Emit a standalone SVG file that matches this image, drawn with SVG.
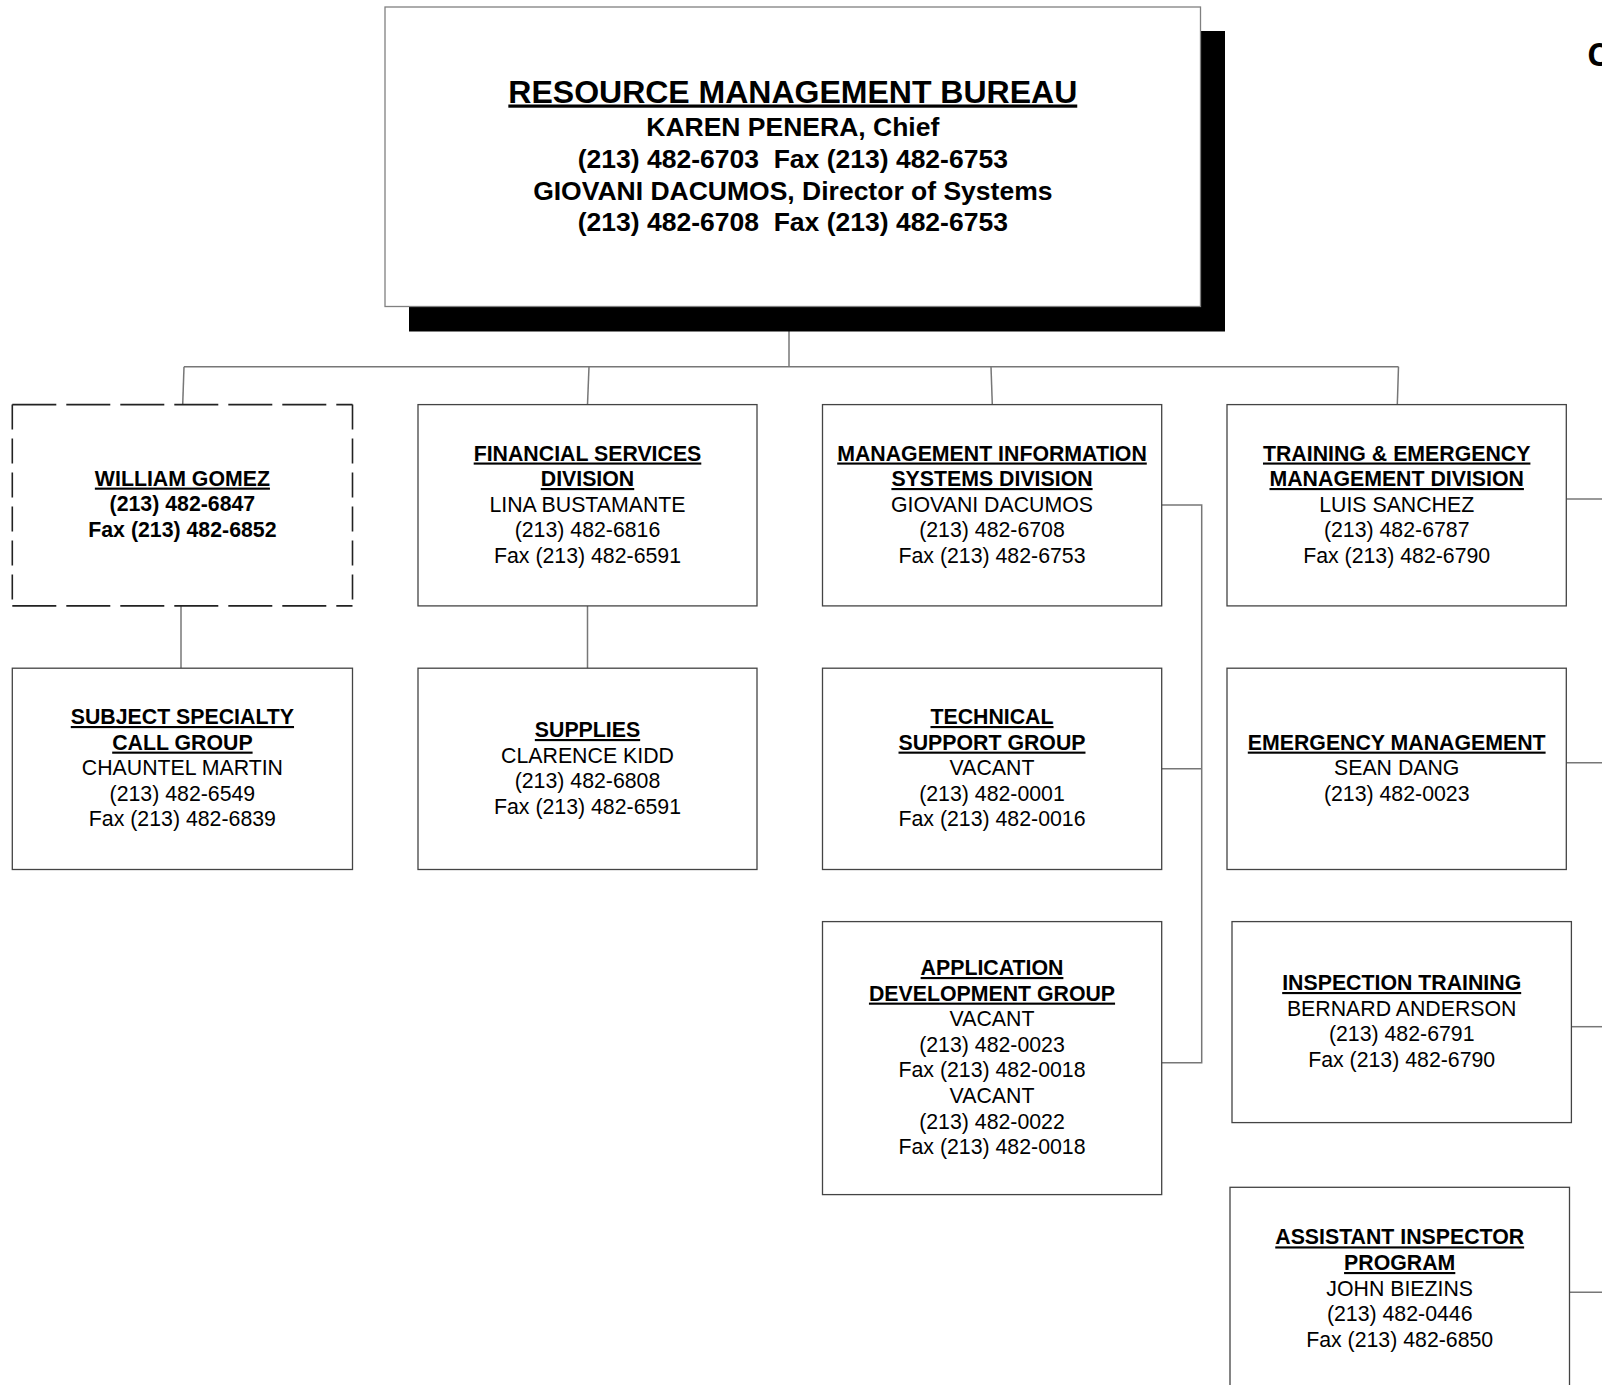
<svg xmlns="http://www.w3.org/2000/svg" width="1602" height="1385" viewBox="0 0 1602 1385">
<style>
.box{fill:#fff;stroke:#444;stroke-width:1.3}
.conn{stroke:#777;stroke-width:1.5;fill:none}
.t{font-family:"Liberation Sans",Arial,sans-serif;font-size:21.3px;text-anchor:middle;fill:#000}
.h{font-weight:bold;text-decoration:underline}
.b{font-weight:bold}
.m{font-family:"Liberation Sans",Arial,sans-serif;font-weight:bold;text-anchor:middle;fill:#000}
</style>
<rect width="1602" height="1385" fill="#fff"/>
<g id="connectors">
<line class="conn" x1="789" y1="331" x2="789" y2="366.7"/>
<line class="conn" x1="184" y1="366.7" x2="1398.5" y2="366.7"/>
<line class="conn" x1="184" y1="366.7" x2="182.7" y2="404.6"/>
<line class="conn" x1="589" y1="366.7" x2="587.5" y2="404.6"/>
<line class="conn" x1="991" y1="366.7" x2="992.3" y2="404.6"/>
<line class="conn" x1="1398.5" y1="366.7" x2="1397.3" y2="404.6"/>
<line class="conn" x1="181" y1="606" x2="181" y2="668.2"/>
<line class="conn" x1="587.5" y1="606" x2="587.5" y2="668.2"/>
<polyline class="conn" points="1162,505 1201.7,505 1201.7,1062.7 1162,1062.7"/>
<line class="conn" x1="1162" y1="768.7" x2="1201.7" y2="768.7"/>
<line class="conn" x1="1566.3" y1="499" x2="1602" y2="499"/>
<line class="conn" x1="1566.3" y1="762.7" x2="1602" y2="762.7"/>
<line class="conn" x1="1571.4" y1="1026.7" x2="1602" y2="1026.7"/>
<line class="conn" x1="1569.5" y1="1292.3" x2="1602" y2="1292.3"/>
</g>
<g id="bureau">
<rect x="409" y="31" width="816" height="300.5" fill="#000"/>
<rect x="385" y="7" width="815.5" height="299.5" fill="#fff" stroke="#808080" stroke-width="1.3"/>
<text class="m" x="792.8" y="102.5" font-size="32" text-decoration="underline">RESOURCE MANAGEMENT BUREAU</text>
<text class="m" x="792.8" y="136" font-size="26.5">KAREN PENERA, Chief</text>
<text class="m" x="792.8" y="167.7" font-size="26.5" xml:space="preserve">(213) 482-6703  Fax (213) 482-6753</text>
<text class="m" x="792.8" y="199.5" font-size="26.5">GIOVANI DACUMOS, Director of Systems</text>
<text class="m" x="792.8" y="231" font-size="26.5" xml:space="preserve">(213) 482-6708  Fax (213) 482-6753</text>
</g>
<g id="title-fragment">
<text x="1587" y="66" font-family="'Open Sans','Noto Sans',sans-serif" font-weight="bold" font-size="32">C</text>
</g>
<g id="william-gomez">
<rect x="12.3" y="404.6" width="340.2" height="201.3" fill="#fff" stroke="none"/>
<line x1="12.3" y1="404.6" x2="352.5" y2="404.6" stroke="#222" stroke-width="1.6" stroke-dasharray="44 10"/>
<line x1="12.3" y1="605.9" x2="352.5" y2="605.9" stroke="#222" stroke-width="1.6" stroke-dasharray="44 10"/>
<line x1="12.3" y1="404.6" x2="12.3" y2="605.9" stroke="#222" stroke-width="1.6" stroke-dasharray="25 9"/>
<line x1="352.5" y1="404.6" x2="352.5" y2="605.9" stroke="#222" stroke-width="1.6" stroke-dasharray="25 9"/>
<text class="t h" x="182.4" y="485.6">WILLIAM GOMEZ</text>
<text class="t b" x="182.4" y="511.2">(213) 482-6847</text>
<text class="t b" x="182.4" y="536.8">Fax (213) 482-6852</text>
</g>
<g id="financial-services">
<rect class="box" x="418" y="404.6" width="339" height="201.3"/>
<text class="t h" x="587.5" y="460.5">FINANCIAL SERVICES</text>
<text class="t h" x="587.5" y="486">DIVISION</text>
<text class="t" x="587.5" y="511.5">LINA BUSTAMANTE</text>
<text class="t" x="587.5" y="537">(213) 482-6816</text>
<text class="t" x="587.5" y="562.5">Fax (213) 482-6591</text>
</g>
<g id="mis">
<rect class="box" x="822.5" y="404.6" width="339.2" height="201.3"/>
<text class="t h" x="992" y="460.5">MANAGEMENT INFORMATION</text>
<text class="t h" x="992" y="486">SYSTEMS DIVISION</text>
<text class="t" x="992" y="511.5">GIOVANI DACUMOS</text>
<text class="t" x="992" y="537">(213) 482-6708</text>
<text class="t" x="992" y="562.5">Fax (213) 482-6753</text>
</g>
<g id="training-emergency">
<rect class="box" x="1227" y="404.6" width="339.3" height="201.3"/>
<text class="t h" x="1396.7" y="460.5">TRAINING &amp; EMERGENCY</text>
<text class="t h" x="1396.7" y="486">MANAGEMENT DIVISION</text>
<text class="t" x="1396.7" y="511.5">LUIS SANCHEZ</text>
<text class="t" x="1396.7" y="537">(213) 482-6787</text>
<text class="t" x="1396.7" y="562.5">Fax (213) 482-6790</text>
</g>
<g id="subject-specialty">
<rect class="box" x="12.3" y="668.2" width="340.2" height="201.3"/>
<text class="t h" x="182.4" y="724">SUBJECT SPECIALTY</text>
<text class="t h" x="182.4" y="749.6">CALL GROUP</text>
<text class="t" x="182.4" y="775.2">CHAUNTEL MARTIN</text>
<text class="t" x="182.4" y="800.8">(213) 482-6549</text>
<text class="t" x="182.4" y="826.4">Fax (213) 482-6839</text>
</g>
<g id="supplies">
<rect class="box" x="418" y="668.2" width="339" height="201.3"/>
<text class="t h" x="587.5" y="737">SUPPLIES</text>
<text class="t" x="587.5" y="762.5">CLARENCE KIDD</text>
<text class="t" x="587.5" y="788">(213) 482-6808</text>
<text class="t" x="587.5" y="813.6">Fax (213) 482-6591</text>
</g>
<g id="technical-support">
<rect class="box" x="822.5" y="668.2" width="339.2" height="201.3"/>
<text class="t h" x="992" y="724">TECHNICAL</text>
<text class="t h" x="992" y="749.6">SUPPORT GROUP</text>
<text class="t" x="992" y="775.2">VACANT</text>
<text class="t" x="992" y="800.8">(213) 482-0001</text>
<text class="t" x="992" y="826.4">Fax (213) 482-0016</text>
</g>
<g id="emergency-management">
<rect class="box" x="1227" y="668.2" width="339.3" height="201.3"/>
<text class="t h" x="1396.7" y="749.6">EMERGENCY MANAGEMENT</text>
<text class="t" x="1396.7" y="775.2">SEAN DANG</text>
<text class="t" x="1396.7" y="800.8">(213) 482-0023</text>
</g>
<g id="application-development">
<rect class="box" x="822.5" y="921.6" width="339.2" height="273"/>
<text class="t h" x="992" y="975">APPLICATION</text>
<text class="t h" x="992" y="1000.6">DEVELOPMENT GROUP</text>
<text class="t" x="992" y="1026.2">VACANT</text>
<text class="t" x="992" y="1051.8">(213) 482-0023</text>
<text class="t" x="992" y="1077.4">Fax (213) 482-0018</text>
<text class="t" x="992" y="1103">VACANT</text>
<text class="t" x="992" y="1128.6">(213) 482-0022</text>
<text class="t" x="992" y="1154.2">Fax (213) 482-0018</text>
</g>
<g id="inspection-training">
<rect class="box" x="1232" y="921.6" width="339.4" height="201"/>
<text class="t h" x="1401.7" y="990">INSPECTION TRAINING</text>
<text class="t" x="1401.7" y="1015.6">BERNARD ANDERSON</text>
<text class="t" x="1401.7" y="1041.2">(213) 482-6791</text>
<text class="t" x="1401.7" y="1066.8">Fax (213) 482-6790</text>
</g>
<g id="assistant-inspector">
<rect class="box" x="1230" y="1187.3" width="339.5" height="220"/>
<text class="t h" x="1399.7" y="1244.4">ASSISTANT INSPECTOR</text>
<text class="t h" x="1399.7" y="1270">PROGRAM</text>
<text class="t" x="1399.7" y="1295.6">JOHN BIEZINS</text>
<text class="t" x="1399.7" y="1321.2">(213) 482-0446</text>
<text class="t" x="1399.7" y="1346.8">Fax (213) 482-6850</text>
</g>
</svg>
